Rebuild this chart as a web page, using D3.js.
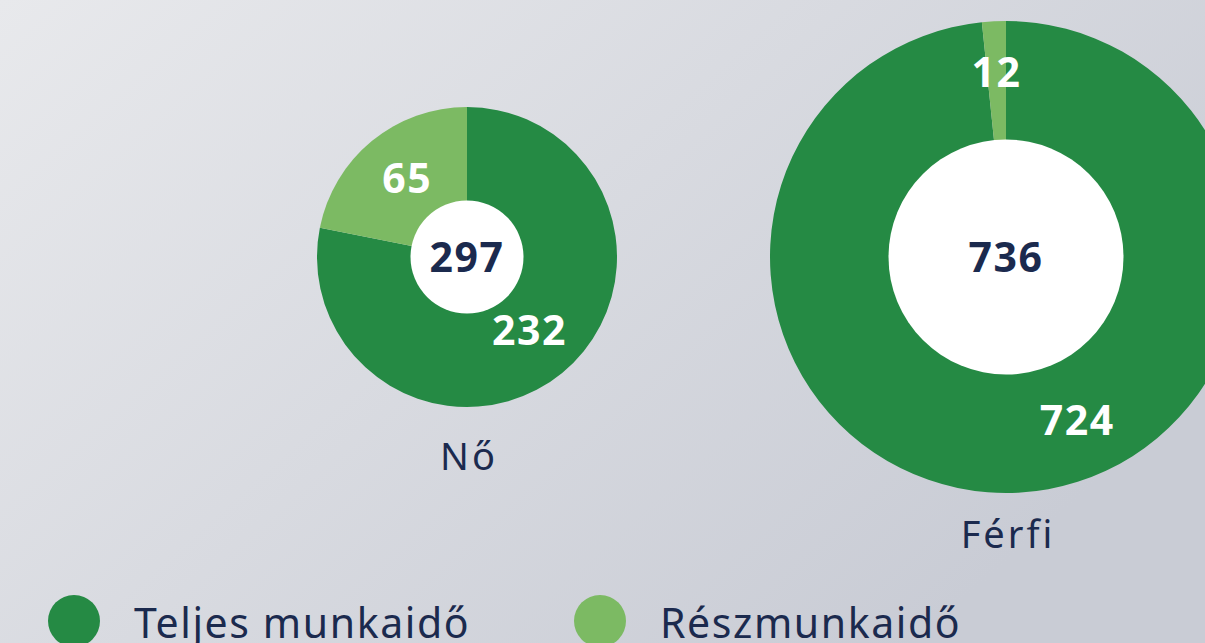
<!DOCTYPE html>
<html>
<head>
<meta charset="utf-8">
<script src="https://cdn.jsdelivr.net/npm/d3@7"></script>
<style>
  html, body { margin: 0; padding: 0; overflow: hidden; }
  body { width: 1205px; height: 643px; }
  text { font-family: "Noto Sans", sans-serif; }
</style>
</head>
<body>
<div id="chart"></div>
<script>
// data
const groups = ["Nő", "Férfi"];
const seriesNames = ["Teljes munkaidő", "Részmunkaidő"];
const fullTime = [232, 724];
const partTime = [65, 12];
const colors = ["#258a44", "#7cba63"];

const width = 1205, height = 643;

// layout per donut (centre, sizes)
const layout = [
    {cx: 467, cy: 257, outer: 150, inner: 56.5, labelR: [96, 99], labelShift: [-0.02, 0.04], nameY: 470},
    {cx: 1006, cy: 257, outer: 236, inner: 117.5, labelR: [178, 185], labelShift: [-0.36, 0], nameY: 548}
];

const svg = d3.select("#chart").append("svg")
    .attr("width", width)
    .attr("height", height);

// background gradient
const grad = svg.append("defs").append("linearGradient")
    .attr("id", "bg")
    .attr("x1", "0%").attr("y1", "0%")
    .attr("x2", "100%").attr("y2", "60%");
grad.append("stop").attr("offset", "0%").attr("stop-color", "#e8e9ec");
grad.append("stop").attr("offset", "100%").attr("stop-color", "#c9ccd5");

svg.append("rect")
    .attr("width", width).attr("height", height)
    .attr("fill", "url(#bg)");

const pie = d3.pie().sort(null).value(d => d);

groups.forEach(function(name, i) {
    let L = layout[i];
    let values = [fullTime[i], partTime[i]];
    let total = d3.sum(values);
    let arcs = pie(values);

    let g = svg.append("g")
        .attr("transform", "translate(" + L.cx + "," + L.cy + ")");

    let arc = d3.arc().innerRadius(0).outerRadius(L.outer);

    g.selectAll(".slice")
        .data(arcs)
        .enter()
        .append("path")
        .attr("class", "slice")
        .attr("d", arc)
        .attr("fill", (d, j) => colors[j]);

    // white hole
    g.append("circle")
        .attr("r", L.inner)
        .attr("fill", "#ffffff");

    // slice labels
    g.selectAll(".slice-label")
        .data(arcs)
        .enter()
        .append("text")
        .attr("class", "slice-label")
        .attr("transform", function(d, j) {
            let a = (d.startAngle + d.endAngle) / 2 + L.labelShift[j];
            let r = L.labelR[j];
            return "translate(" + (r * Math.sin(a)) + "," + (-r * Math.cos(a)) + ")";
        })
        .attr("text-anchor", "middle")
        .attr("dy", "0.36em")
        .attr("fill", "#ffffff")
        .style("font-size", "41px")
        .style("font-weight", 700)
        .style("letter-spacing", "1.5px")
        .text(d => d.data);

    // total in the middle
    g.append("text")
        .attr("text-anchor", "middle")
        .attr("dy", "0.36em")
        .attr("fill", "#1b2a4e")
        .style("font-size", "41px")
        .style("font-weight", 700)
        .style("letter-spacing", "1.5px")
        .text(total);

    // group name
    svg.append("text")
        .attr("x", L.cx + 2)
        .attr("y", L.nameY)
        .attr("text-anchor", "middle")
        .attr("fill", "#1b2a4e")
        .style("font-size", "38px")
        .style("font-weight", 400)
        .style("letter-spacing", "3px")
        .text(name);
});

// legend
const legendX = [74, 600];
const legend = svg.selectAll(".legend")
    .data(seriesNames)
    .enter()
    .append("g")
    .attr("class", "legend")
    .attr("transform", (d, i) => "translate(" + legendX[i] + ",621)");

legend.append("circle")
    .attr("r", 26)
    .attr("fill", (d, i) => colors[i]);

legend.append("text")
    .attr("x", 60)
    .attr("y", 17)
    .attr("fill", "#1b2a4e")
    .style("font-size", "41px")
    .style("font-weight", 400)
    .style("letter-spacing", "1.6px")
    .text(d => d);
</script>
</body>
</html>
